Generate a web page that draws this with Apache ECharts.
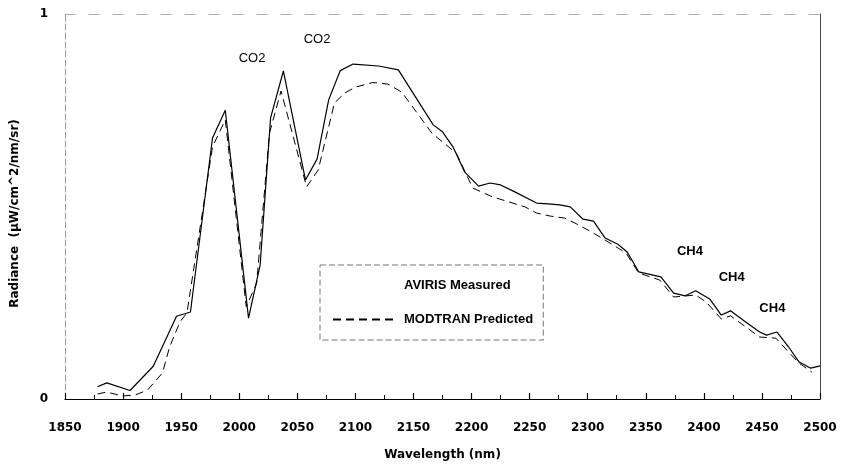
<!DOCTYPE html>
<html>
<head>
<meta charset="utf-8">
<script src="https://cdn.jsdelivr.net/npm/echarts@6/dist/echarts.min.js"></script>
<style>
html,body{margin:0;padding:0;background:#fff;}
#chart{width:841px;height:466px;}
</style>
</head>
<body>
<div id="chart"></div>
<script>
// Data
const measuredX = [1878,1886,1906,1926,1946,1958,1977,1988,2008,2018,2027,2038,2057,2067,2077,2087,2098,2120,2137,2167,2175,2184,2194,2206,2216,2225,2236,2256,2266,2276,2285,2296,2305,2315,2326,2334,2344,2363,2374,2384,2393,2405,2415,2423,2436,2448,2454,2463,2473,2482,2492,2500];
const measuredY = [0.032,0.042,0.022,0.085,0.215,0.226,0.678,0.75,0.21,0.348,0.73,0.852,0.569,0.623,0.777,0.853,0.87,0.865,0.855,0.712,0.694,0.655,0.59,0.553,0.561,0.556,0.54,0.509,0.507,0.504,0.499,0.467,0.462,0.418,0.402,0.382,0.33,0.317,0.275,0.268,0.281,0.26,0.218,0.229,0.2,0.174,0.166,0.174,0.135,0.096,0.08,0.086];
const predictedX = [1878,1886,1899,1910,1921,1934,1940,1949,1955,1977,1988,2006,2015,2026,2036,2058,2068,2082,2091,2100,2115,2128,2140,2166,2187,2201,2218,2230,2246,2256,2268,2280,2289,2302,2311,2322,2333,2344,2362,2374,2393,2402,2415,2423,2448,2462,2473,2482,2493];
const predictedY = [0.013,0.018,0.008,0.01,0.023,0.068,0.135,0.2,0.224,0.655,0.725,0.24,0.3,0.69,0.8,0.551,0.595,0.769,0.795,0.81,0.822,0.818,0.797,0.69,0.638,0.548,0.525,0.514,0.499,0.483,0.475,0.47,0.457,0.436,0.42,0.4,0.379,0.327,0.309,0.265,0.27,0.252,0.208,0.216,0.161,0.158,0.122,0.093,0.07];
const co2Labels = [{text:'CO2', x:2011, y:0.885},{text:'CO2', x:2067, y:0.935}];
const ch4Labels = [{text:'CH4', x:2388, y:0.384},{text:'CH4', x:2424, y:0.317},{text:'CH4', x:2459, y:0.234}];
const xTicks = {min:1850, max:2500, interval:50};
const yTicks = {min:0, max:1, interval:1};
const seriesNames = ['AVIRIS Measured','MODTRAN Predicted'];

const pairs = (xs, ys) => xs.map((x, i) => [x, ys[i]]);
const chart = echarts.init(document.getElementById('chart'), null, {renderer:'canvas'});
const boldFont = 'DejaVu Sans';

const marks = co2Labels.map(a => ({coord:[a.x,a.y], value:a.text,
    label:{fontFamily:'Liberation Sans', fontSize:13, fontWeight:'normal'}}))
  .concat(ch4Labels.map(a => ({coord:[a.x,a.y], value:a.text,
    label:{fontFamily:'Liberation Sans', fontSize:13, fontWeight:'bold'}})));

chart.setOption({
  backgroundColor:'#fff',
  animation:false,
  grid:{left:65, right:21, top:14, bottom:67, containLabel:false, outerBoundsMode:'none'},
  legend:{
    orient:'vertical', left:320, top:265,
    padding:[14,10,14,12], itemGap:21, itemWidth:61, itemHeight:14,
    borderColor:'#777', borderWidth:1, borderType:[6,3],
    textStyle:{fontFamily:'Liberation Sans', fontWeight:'bold', fontSize:13, color:'#000', padding:[0,0,0,5]},
    data:[
      {name:seriesNames[0], itemStyle:{opacity:0}, lineStyle:{opacity:0}},
      {name:seriesNames[1], itemStyle:{opacity:0}}
    ]
  },
  xAxis:[{
    type:'value', min:xTicks.min, max:xTicks.max, interval:xTicks.interval,
    name:'Wavelength (nm)', nameLocation:'middle', nameGap:50,
    nameTextStyle:{fontFamily:boldFont, fontWeight:'bold', fontSize:12, color:'#000'},
    axisLine:{show:true, onZero:false, lineStyle:{color:'#000', width:1.2}},
    axisTick:{show:true, inside:true, length:6, lineStyle:{color:'#000', width:1.2}},
    minorTick:{show:true, splitNumber:2, length:4, lineStyle:{color:'#000', width:1}},
    axisLabel:{margin:23, fontFamily:boldFont, fontWeight:'bold', fontSize:12, color:'#000',
      formatter:v => String(v)},
    splitLine:{show:false}
  },{
    type:'value', position:'top', min:xTicks.min, max:xTicks.max,
    axisLine:{show:true, onZero:false, lineStyle:{color:'#aaa', width:1, type:[10,14]}},
    axisTick:{show:false}, axisLabel:{show:false}, splitLine:{show:false}
  }],
  yAxis:[{
    type:'value', min:yTicks.min, max:yTicks.max, interval:yTicks.interval,
    name:'Radiance  (\u00b5W/cm^2/nm/sr)', nameLocation:'middle', nameGap:44,
    nameTextStyle:{fontFamily:boldFont, fontWeight:'bold', fontSize:12, color:'#000', padding:[0,14,0,0]},
    axisLine:{show:true, onZero:false, lineStyle:{color:'#999', width:1, type:[6,3]}},
    axisTick:{show:false},
    axisLabel:{margin:17, fontFamily:boldFont, fontWeight:'bold', fontSize:12, color:'#000'},
    splitLine:{show:false}
  },{
    type:'value', position:'right', min:yTicks.min, max:yTicks.max,
    axisLine:{show:true, onZero:false, lineStyle:{color:'#444', width:1}},
    axisTick:{show:false}, axisLabel:{show:false}, splitLine:{show:false}
  }],
  series:[{
    name:seriesNames[0], type:'line', data:pairs(measuredX, measuredY),
    showSymbol:false, symbol:'none',
    lineStyle:{color:'#000', width:1.2, type:'solid'},
    itemStyle:{color:'#000'},
    markPoint:{
      symbol:'circle', symbolSize:1, itemStyle:{color:'rgba(0,0,0,0)'},
      label:{show:true, position:'inside', color:'#000', formatter:p => p.value},
      data:marks
    }
  },{
    name:seriesNames[1], type:'line', data:pairs(predictedX, predictedY),
    showSymbol:false, symbol:'none',
    lineStyle:{color:'#000', width:1, type:[8,5]},
    itemStyle:{color:'#000'}
  }]
});
</script>
</body>
</html>
